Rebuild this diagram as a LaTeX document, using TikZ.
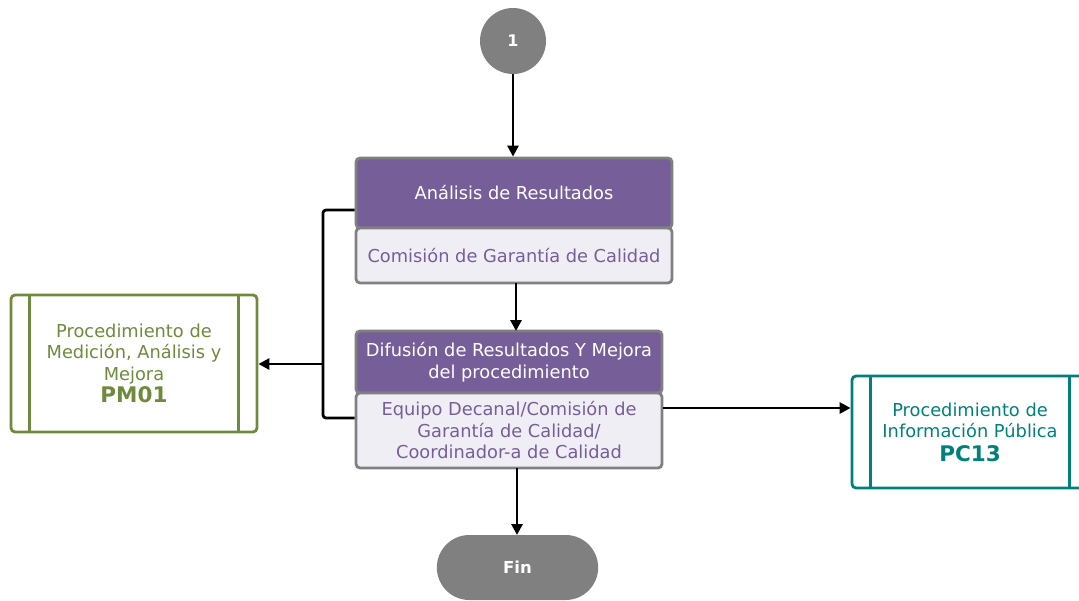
\documentclass[tikz,border=0pt]{standalone}
\usepackage{fontspec}
\setmainfont{DejaVu Sans}
\usetikzlibrary{arrows.meta,shapes.misc,calc}
\definecolor{hdr}{RGB}{118,94,152}
\definecolor{subfill}{RGB}{240,238,245}
\definecolor{bordergray}{RGB}{128,128,128}
\definecolor{olivegreen}{RGB}{110,139,61}
\definecolor{tealc}{RGB}{0,128,122}
\tikzset{
  hdrbox/.style={draw=bordergray, line width=2.8pt, fill=hdr, rounded corners=4pt, text=white, align=center, inner sep=0pt, font=\fontsize{17.8}{21.5}\selectfont},
  subbox/.style={draw=bordergray, line width=2.8pt, fill=subfill, rounded corners=4pt, text=hdr, align=center, inner sep=0pt, font=\fontsize{17.8}{21.5}\selectfont},
  procbox/.style={line width=2.8pt, rounded corners=4pt, fill=white, align=center, inner sep=0pt, font=\fontsize{17.8}{21.5}\selectfont},
  termnode/.style={fill=bordergray, text=white, font=\bfseries\fontsize{16.5}{20}\selectfont},
  conn/.style={line width=2.8pt, -{Triangle[length=11pt,width=11pt]}},
  plainconn/.style={line width=2.8pt, rounded corners=3pt}
}
\begin{document}
\begin{tikzpicture}[x=1pt,y=-1pt]
\useasboundingbox (0,0) rectangle (1079,600);
\clip (0,0) rectangle (1079,600);
% start circle
\node[termnode, circle, minimum size=66pt, inner sep=0pt, font=\bfseries\fontsize{16}{18}\selectfont] (c1) at (513,41) {1};
% box 1
\node[hdrbox, minimum width=316pt, minimum height=70pt] (h1) at (514,193) {Análisis de Resultados};
\node[subbox, minimum width=316pt, minimum height=55pt] (s1) at (514,255.5) {Comisión de Garantía de Calidad};
% box 2
\node[hdrbox, minimum width=306pt, minimum height=62pt] (h2) at (509,362) {Difusión de Resultados Y Mejora\\del procedimiento};
\node[subbox, minimum width=306pt, minimum height=75pt] (s2) at (509,430.5) {Equipo Decanal/Comisión de\\Garantía de Calidad/\\Coordinador-a de Calidad};
% end
\node[termnode, rounded rectangle, minimum width=168pt, minimum height=65pt] (fin) at (517.5,567.5) {Fin};
% PM01
\node[procbox, draw=olivegreen, text=olivegreen, minimum width=246pt, minimum height=137pt] (pm) at (134,363.5) {Procedimiento de\\Medición, Análisis y\\Mejora\\[1pt]{\bfseries\fontsize{21.5}{24}\selectfont PM01}};
\draw[olivegreen, line width=2.8pt] ($(pm.north west)+(20,0)$) -- ($(pm.south west)+(20,0)$);
\draw[olivegreen, line width=2.8pt] ($(pm.north east)+(-20,0)$) -- ($(pm.south east)+(-20,0)$);
% PC13
\node[procbox, draw=tealc, text=tealc, minimum width=236pt, minimum height=112pt] (pc) at (970,432) {Procedimiento de\\Información Pública\\[2pt]{\bfseries\fontsize{21.5}{24}\selectfont PC13}};
\draw[tealc, line width=2.8pt] ($(pc.north west)+(20,0)$) -- ($(pc.south west)+(20,0)$);
\draw[tealc, line width=2.8pt] ($(pc.north east)+(-20,0)$) -- ($(pc.south east)+(-20,0)$);
% connectors
\coordinate (a1) at (516,283);
\coordinate (a2) at (516,331);
\coordinate (b1) at (517,468);
\coordinate (b2) at (517,535);
\draw[conn] (c1.south) -- (c1.south |- h1.north);
\draw[conn] (a1) -- (a2);
\draw[conn] (b1) -- (b2);
\coordinate (bk) at (323,364);
\draw[plainconn] (h1.west |- 0,210) -| (bk) |- (s2.west |- 0,418);
\draw[conn] (bk) -- (pm.east |- bk);
\draw[conn] (s2.east |- 0,408) -- (pc.west |- 0,408);
\end{tikzpicture}
\end{document}
